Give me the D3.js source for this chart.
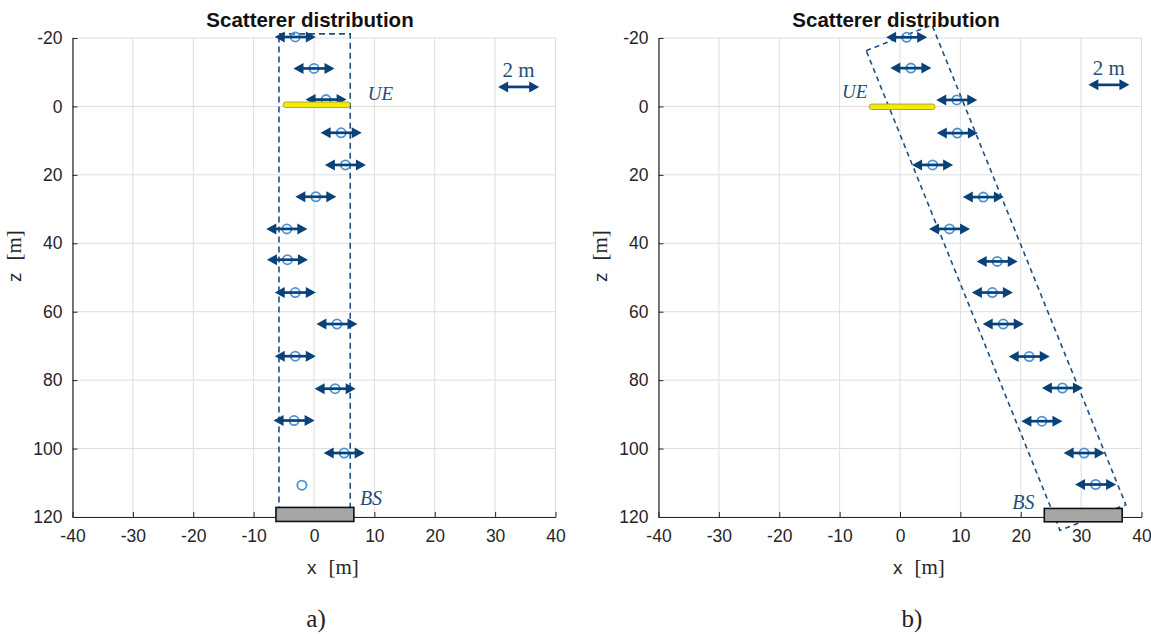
<!DOCTYPE html>
<html>
<head>
<meta charset="utf-8">
<script src="https://cdn.jsdelivr.net/npm/d3@7"></script>
<style>
  body { margin: 0; background: #fff; }
  svg { display: block; }
</style>
</head>
<body>
<svg id="chart" width="1151" height="634"></svg>
<script>
var xTicks = [-40, -30, -20, -10, 0, 10, 20, 30, 40];
var zTicks = [-20, 0, 20, 40, 60, 80, 100, 120];

// panel a) scatterer positions [m] and arrow lengths [m]
var scatXa = [-3.1, 0.0, 2.0, 4.5, 5.2, 0.3, -4.5, -4.4, -3.1, 3.8, -3.1, 3.5, -3.3, 5.0, -2.0];
var scatZa = [-20.3, -11.1, -2.0, 7.7, 17.1, 26.4, 35.8, 44.8, 54.4, 63.6, 73.0, 82.5, 91.8, 101.3, 110.7];
var arrowMa = [2, 2, 2, 2, 2, 2, 2, 2, 2, 2, 2, 2, 2, 2, 0];

// panel b)
var scatXb = [1.1, 1.8, 9.4, 9.5, 5.4, 13.8, 8.2, 16.1, 15.3, 17.1, 21.4, 26.9, 23.5, 30.5, 32.4];
var scatZb = [-20.2, -11.2, -1.9, 7.8, 17.1, 26.5, 35.8, 45.3, 54.4, 63.6, 73.1, 82.3, 92.0, 101.3, 110.5];
var arrowMb = [2, 2, 2, 2, 2, 2, 2, 2, 2, 2, 2, 2, 2, 2, 2];

// dashed region corners (x, z)
var boxA = [[-5.8, -21.2], [6.0, -21.2], [6.0, 120], [-5.8, 120]];
var boxB = [[-5.6, -16.3], [5.3, -23.8], [37.4, 116.4], [26.5, 123.9]];

// UE and BS extents [x0, x1, z0, z1]
var ueA = [-5.1, 6.0, -1.3, 0.3];
var ueB = [-5.1, 5.8, -0.7, 0.9];
var bsA = [-6.3, 6.6, 117.2, 121.3];
var bsB = [23.9, 36.8, 117.5, 121.4];

var legendM = 2;          // scale arrow "2 m"
var arrowUnit = 3.4;      // axis units per metre of arrow

var svg = d3.select("#chart");
svg.append("rect").attr("width", 1151).attr("height", 634).attr("fill", "#fff");

var navy = "#0a4177", light = "#4a95d6", ann = "#1f4e79", axisCol = "#262626";
var sans = "'Liberation Sans', Arial, sans-serif";
var serif = "'Liberation Serif', 'DejaVu Serif', serif";

function arrow(g, x, cx, cz, m, zs) {
  var half = m * arrowUnit / 2;
  var x0 = x(cx - half), x1 = x(cx + half), y = zs(cz);
  var hl = 10, hw = 5.5;
  g.append("line")
    .attr("x1", x0 + hl - 1).attr("x2", x1 - hl + 1)
    .attr("y1", y).attr("y2", y)
    .attr("stroke", navy).attr("stroke-width", 2.7);
  g.append("path")
    .attr("d", d3.line()([[x0, y], [x0 + hl, y - hw], [x0 + hl, y + hw]]) + "Z")
    .attr("fill", navy);
  g.append("path")
    .attr("d", d3.line()([[x1, y], [x1 - hl, y - hw], [x1 - hl, y + hw]]) + "Z")
    .attr("fill", navy);
}

function drawPanel(p) {
  var x = d3.scaleLinear().domain([-40, 40]).range([p.left, p.left + 483]);
  var z = d3.scaleLinear().domain([-20, 120]).range([38, 517]);
  var g = svg.append("g");

  // grid
  g.append("g").selectAll("line").data(xTicks).enter().append("line")
    .attr("x1", d => x(d)).attr("x2", d => x(d))
    .attr("y1", z(-20)).attr("y2", z(120))
    .attr("stroke", "#dedede").attr("stroke-width", 1);
  g.append("g").selectAll("line").data(zTicks).enter().append("line")
    .attr("x1", x(-40)).attr("x2", x(40))
    .attr("y1", d => z(d)).attr("y2", d => z(d))
    .attr("stroke", "#dedede").attr("stroke-width", 1);

  // axes
  var ax = g.append("g").attr("transform", `translate(0,${z(120)})`)
    .call(d3.axisBottom(x).tickValues(xTicks).tickSizeInner(-5).tickSizeOuter(0)
      .tickPadding(13).tickFormat(d => String(d)));
  var ay = g.append("g").attr("transform", `translate(${x(-40)},0)`)
    .call(d3.axisLeft(z).tickValues(zTicks).tickSizeInner(-5).tickSizeOuter(0)
      .tickPadding(10).tickFormat(d => String(d)));
  [ax, ay].forEach(a => {
    a.select(".domain").attr("stroke", axisCol).attr("stroke-width", 1.2);
    a.selectAll(".tick line").attr("stroke", axisCol);
    a.selectAll(".tick text").attr("fill", axisCol)
      .style("font-family", sans).style("font-size", "17.5px");
  });

  // dashed region
  g.append("path")
    .attr("d", d3.line().x(d => x(d[0])).y(d => z(d[1]))(p.box) + "Z")
    .attr("fill", "none").attr("stroke", "#1d4f82").attr("stroke-width", 1.6)
    .attr("stroke-dasharray", p.dash);

  // scatterers
  g.append("g").selectAll("circle").data(p.sx).enter().append("circle")
    .attr("cx", d => x(d)).attr("cy", (d, i) => z(p.sz[i]))
    .attr("r", 4.6).attr("fill", "none").attr("stroke", light).attr("stroke-width", 1.8);
  var ag = g.append("g");
  p.sx.forEach((d, i) => { if (p.am[i] > 0) arrow(ag, x, d, p.sz[i], p.am[i], z); });

  // UE
  g.append("rect")
    .attr("x", x(p.ue[0])).attr("y", z(p.ue[2]))
    .attr("width", x(p.ue[1]) - x(p.ue[0])).attr("height", z(p.ue[3]) - z(p.ue[2]))
    .attr("rx", 2.5).attr("fill", "#f4ec00").attr("stroke", "#a09a48").attr("stroke-width", 0.9);
  // BS
  g.append("rect")
    .attr("x", x(p.bs[0])).attr("y", z(p.bs[2]))
    .attr("width", x(p.bs[1]) - x(p.bs[0])).attr("height", z(p.bs[3]) - z(p.bs[2]))
    .attr("fill", "#a6a6a6").attr("stroke", "#111").attr("stroke-width", 1.6);

  g.append("text").attr("x", x(p.ueLab[0])).attr("y", z(p.ueLab[1]))
    .attr("fill", ann).style("font-family", serif).style("font-style", "italic")
    .style("font-size", "19px").text("UE");
  g.append("text").attr("x", x(p.bsLab[0])).attr("y", z(p.bsLab[1]))
    .attr("fill", ann).style("font-family", serif).style("font-style", "italic")
    .style("font-size", "20px").text("BS");

  // scale arrow
  arrow(g, x, p.leg[0], p.leg[1], legendM, z);
  g.append("text").attr("x", x(p.leg[0])).attr("y", z(p.leg[1]) - 10)
    .attr("text-anchor", "middle").attr("fill", ann)
    .style("font-family", serif).style("font-size", "21px").text(legendM + " m");

  // titles and labels
  var cx = (x(-40) + x(40)) / 2;
  g.append("text").attr("x", cx - 4).attr("y", 27).attr("text-anchor", "middle")
    .attr("fill", "#111").style("font-family", sans)
    .style("font-weight", "bold").style("font-size", "20.5px").text("Scatterer distribution");

  var xl = g.append("text").attr("x", cx - 7).attr("y", 574).attr("fill", axisCol)
    .style("font-family", sans).style("font-size", "19px");
  xl.append("tspan").text("x");
  xl.append("tspan").attr("dx", 12).style("font-family", serif).style("font-size", "21px").text("[m]");

  var zl = g.append("text").attr("transform", `translate(${x(-40) - 52},282) rotate(-90)`)
    .attr("fill", axisCol)
    .style("font-family", sans).style("font-size", "19px");
  zl.append("tspan").text("z");
  zl.append("tspan").attr("dx", 12).style("font-family", serif).style("font-size", "21px").text("[m]");

  g.append("text").attr("x", p.subX).attr("y", 627).attr("text-anchor", "middle")
    .attr("fill", "#222").style("font-family", serif).style("font-size", "25px").text(p.sub);
}

drawPanel({
  left: 72.5, sx: scatXa, sz: scatZa, am: arrowMa, box: boxA, dash: "6,4",
  ue: ueA, bs: bsA, ueLab: [8.9, -1.9], bsLab: [7.6, 116.6], leg: [33.9, -5.7],
  sub: "a)", subX: 316
});
drawPanel({
  left: 658.5, sx: scatXb, sz: scatZb, am: arrowMb, box: boxB, dash: "5,4",
  ue: ueB, bs: bsB, ueLab: [-9.6, -2.5], bsLab: [18.6, 117.8], leg: [34.6, -6.3],
  sub: "b)", subX: 912
});
</script>
</body>
</html>
